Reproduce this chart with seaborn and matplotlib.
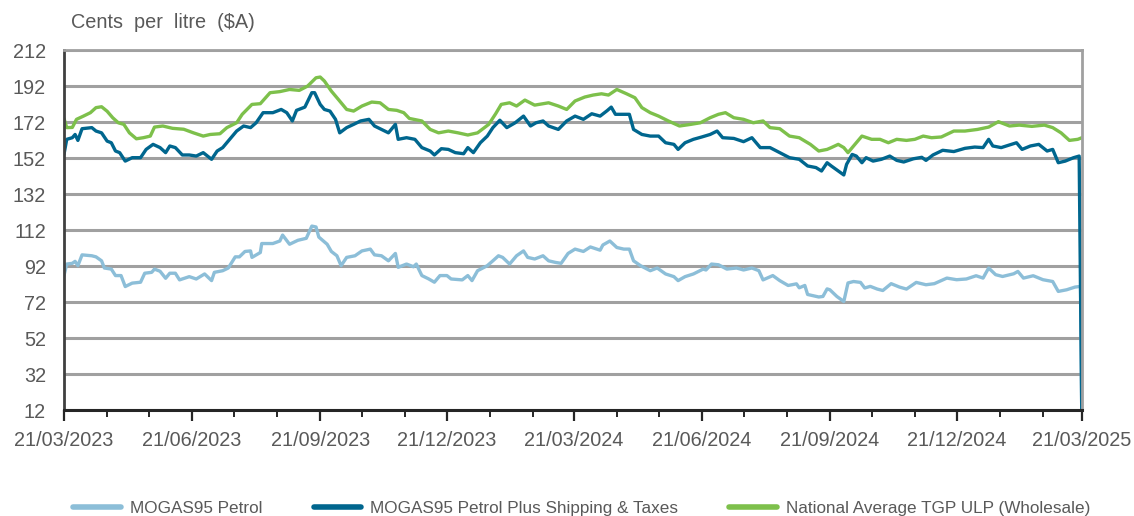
import numpy as np
import pandas as pd
import matplotlib
matplotlib.use("Agg")
import matplotlib.pyplot as plt
import matplotlib.dates as mdates
from matplotlib.lines import Line2D
import seaborn as sns

START = "2023-03-21"
END = "2025-03-21"

series_names = ["MOGAS95 Petrol",
                "MOGAS95 Petrol Plus Shipping & Taxes",
                "National Average TGP ULP (Wholesale)"]
series_colors = ["#8CBED8", "#00668E", "#7DC04B"]

# days since 21/03/2023 and values (cents per litre)
mogas_days = [0, 2, 6, 8, 10, 13, 20, 23, 27, 29, 34, 37, 41, 44, 49, 55, 58, 63, 65, 69,
              73, 76, 80, 83, 90, 95, 101, 106, 108, 114, 118, 123, 126, 130, 134, 135, 141, 142,
              150, 155, 157, 162, 168, 174, 178, 181, 183, 189, 192, 196, 199, 203, 209, 214,
              220, 223, 228, 233, 238, 240, 246, 251, 253, 257, 262, 266, 270, 275, 278, 286,
              290, 293, 297, 304, 308, 312, 315, 320, 325, 330, 333, 338, 344, 348, 353, 357,
              362, 367, 373, 378, 385, 387, 392, 397, 402, 406, 409, 414, 421, 426, 432, 438,
              441, 446, 452, 459, 461, 465, 470, 476, 483, 488, 494, 499, 502, 509, 514, 520,
              526, 528, 532, 534, 542, 545, 548, 550, 555, 560, 563, 567, 572, 575, 579, 584,
              588, 594, 600, 605, 612, 619, 625, 634, 641, 648, 655, 660, 664, 669, 674, 682,
              685, 689, 696, 703, 710, 714, 720, 726, 730, 731]
mogas_vals = [86.7, 93.1, 93.5, 94.6, 92.2, 98.2, 97.7, 97.1, 94.9, 90.9, 90.3, 86.7, 86.7, 80.6,
              82.5, 83.0, 88.0, 88.5, 90.3, 89.1, 85.2, 88.0, 88.0, 84.3, 86.1, 84.8, 87.6, 83.9,
              88.5, 89.4, 90.9, 97.1, 97.1, 100.1, 100.4, 96.8, 99.5, 104.5, 104.5, 105.9, 109.2,
              104.1, 106.3, 107.4, 114.2, 113.7, 108.1, 104.1, 100.1, 97.7, 92.2, 96.8, 97.7,
              100.4, 101.4, 98.2, 97.7, 94.9, 99.0, 91.3, 93.1, 91.6, 93.1, 86.7, 84.8, 83.0,
              86.7, 86.7, 84.8, 84.3, 86.7, 83.9, 89.4, 92.2, 94.9, 97.7, 96.8, 93.1, 97.7, 100.4,
              96.8, 95.9, 97.7, 94.9, 94.0, 93.5, 99.0, 101.4, 100.1, 102.6, 100.8, 103.7, 105.9,
              102.3, 101.4, 101.4, 94.9, 92.2, 89.4, 90.9, 87.6, 86.1, 83.9, 86.1, 87.6, 90.3,
              89.8, 93.1, 92.7, 90.3, 90.9, 89.8, 90.9, 89.4, 84.3, 86.7, 83.9, 81.2, 82.1, 79.9,
              81.2, 76.2, 74.8, 75.1, 79.3, 78.8, 75.1, 72.3, 82.6, 83.4, 82.9, 79.8, 80.7, 79.2,
              78.4, 82.2, 80.3, 79.2, 82.9, 81.6, 82.2, 85.3, 84.4, 84.8, 86.6, 85.3, 90.9, 87.2,
              86.2, 87.7, 89.0, 85.3, 86.6, 84.4, 83.4, 77.9, 78.8, 80.3, 80.7, 0.0]

plus_days = [0, 2, 6, 8, 10, 13, 20, 23, 27, 31, 34, 37, 40, 44, 49, 55, 59, 64, 69, 73, 76, 80,
             85, 90, 95, 100, 106, 110, 114, 119, 124, 129, 134, 138, 143, 150, 156, 160, 164,
             167, 173, 178, 180, 184, 187, 191, 195, 198, 203, 208, 213, 219, 223, 228, 233,
             238, 240, 246, 252, 257, 263, 266, 271, 276, 281, 287, 290, 294, 299, 304, 308,
             313, 318, 324, 330, 335, 339, 344, 348, 355, 361, 367, 373, 379, 385, 390, 393,
             396, 402, 406, 409, 415, 421, 427, 432, 438, 441, 446, 452, 458, 464, 469, 473,
             481, 488, 494, 500, 507, 514, 521, 528, 534, 540, 544, 548, 551, 556, 560, 562,
             566, 569, 573, 576, 581, 587, 593, 598, 603, 610, 616, 619, 624, 631, 639, 647,
             654, 660, 664, 667, 673, 679, 684, 688, 694, 700, 706, 710, 714, 719, 725, 729, 731]
plus_vals = [154.0, 162.4, 163.3, 165.1, 161.8, 168.3, 168.9, 167.0, 166.0, 161.4, 160.5, 155.9,
             155.0, 150.3, 152.2, 152.2, 156.8, 159.6, 157.8, 155.0, 158.7, 157.8, 153.7, 153.7,
             153.1, 155.0, 151.3, 155.9, 157.8, 162.4, 167.0, 169.8, 168.9, 171.6, 177.2, 177.2,
             179.0, 177.2, 172.6, 178.5, 180.3, 188.3, 188.3, 181.8, 179.0, 178.1, 173.5, 166.0,
             168.9, 170.7, 172.6, 173.5, 169.8, 167.9, 166.0, 170.7, 162.4, 163.3, 162.4, 157.8,
             155.9, 153.7, 157.2, 156.8, 155.0, 154.4, 157.8, 155.0, 160.5, 164.2, 168.9, 173.0,
             168.9, 171.6, 175.3, 169.8, 171.6, 172.6, 169.8, 167.9, 172.6, 175.3, 173.5, 176.6,
             175.3, 178.3, 180.3, 176.3, 176.3, 176.3, 167.9, 165.1, 164.2, 164.2, 160.5, 159.6,
             156.8, 160.5, 162.4, 163.7, 165.1, 167.0, 163.3, 162.9, 161.1, 163.3, 157.8, 157.8,
             155.0, 152.2, 151.3, 147.6, 146.7, 144.8, 149.4, 147.6, 144.8, 142.6, 148.5, 154.0,
             153.1, 149.4, 152.2, 150.3, 151.3, 153.1, 150.7, 149.8, 151.6, 152.4, 150.7, 153.7,
             156.3, 155.6, 157.4, 158.1, 157.8, 162.4, 158.7, 157.8, 159.3, 160.5, 156.8, 158.7,
             159.6, 155.9, 156.8, 149.4, 150.3, 152.2, 153.1, 0.0]

tgp_days = [0, 2, 6, 9, 14, 19, 23, 27, 31, 35, 39, 43, 47, 52, 57, 62, 65, 71, 78, 86, 93, 100,
            105, 112, 117, 124, 128, 135, 141, 148, 155, 162, 169, 175, 181, 184, 187, 192, 197,
            203, 208, 214, 221, 227, 233, 239, 244, 248, 257, 263, 269, 276, 283, 290, 297, 305,
            310, 314, 320, 325, 331, 338, 348, 355, 361, 367, 374, 380, 386, 391, 397, 404, 410,
            415, 421, 427, 434, 442, 450, 457, 464, 470, 475, 481, 488, 495, 502, 507, 514, 521,
            528, 536, 542, 548, 551, 556, 560, 563, 567, 573, 580, 586, 592, 598, 605, 611, 617,
            623, 630, 639, 647, 656, 664, 671, 679, 686, 695, 704, 710, 716, 722, 728, 731]
tgp_vals = [174.0, 168.9, 169.0, 173.5, 175.3, 177.2, 180.0, 180.5, 178.0, 174.4, 171.6, 170.7,
            166.0, 162.7, 163.3, 164.2, 169.2, 169.8, 168.5, 168.0, 166.0, 164.2, 165.1, 165.5,
            168.9, 171.6, 176.3, 181.8, 182.2, 188.3, 188.9, 190.1, 189.6, 192.0, 196.6, 197.0,
            194.8, 189.2, 184.6, 179.0, 178.1, 180.9, 183.1, 182.7, 179.0, 178.5, 177.2, 174.0,
            172.6, 167.9, 166.0, 167.0, 166.0, 164.8, 166.0, 170.7, 176.6, 181.8, 182.7, 180.9,
            184.2, 181.4, 182.7, 180.9, 179.0, 183.7, 185.9, 187.0, 187.7, 187.0, 190.1, 187.7,
            185.5, 180.0, 177.2, 175.3, 172.6, 169.8, 170.7, 171.6, 174.4, 176.3, 177.2, 174.4,
            173.5, 171.6, 172.6, 168.9, 168.3, 164.2, 163.3, 159.6, 155.9, 156.8, 157.8, 159.6,
            157.8, 155.0, 158.7, 164.2, 162.4, 162.4, 160.5, 162.4, 161.8, 162.4, 164.2, 163.3,
            163.7, 167.0, 167.0, 167.9, 169.2, 172.2, 169.8, 170.3, 169.6, 170.3, 168.9, 166.0,
            161.8, 162.4, 163.3]

y_ticks = [12, 32, 52, 72, 92, 112, 132, 152, 172, 192, 212]
y_label = "Cents  per  litre  ($A)"

# ---- build long table ----
start = pd.Timestamp(START)
frames = []
for name, days, vals in [(series_names[0], mogas_days, mogas_vals),
                         (series_names[1], plus_days, plus_vals),
                         (series_names[2], tgp_days, tgp_vals)]:
    frames.append(pd.DataFrame({
        "date": start + pd.to_timedelta(days, unit="D"),
        "value": vals,
        "series": name,
    }))
df = pd.concat(frames, ignore_index=True)

sns.set_theme(style="white")
plt.rcParams["font.family"] = ["Liberation Sans", "DejaVu Sans"]
text_color = "#595959"

fig = plt.figure(figsize=(11.34, 5.16), dpi=100)
ax = fig.add_axes([0.0564, 0.2054, 0.8977, 0.6976])

sns.lineplot(data=df, x="date", y="value", hue="series", hue_order=series_names,
             palette=dict(zip(series_names, series_colors)), linewidth=2.4,
             legend=False, ax=ax, estimator=None, sort=False)

ax.set_ylim(12, 212)
ax.set_yticks(y_ticks)
ax.set_xlim(pd.Timestamp(START), pd.Timestamp(END))
ax.yaxis.grid(True, color="#A0A0A0", linewidth=2.2)
ax.set_axisbelow(True)
ax.set_xlabel("")
ax.set_ylabel("")

ax.xaxis.set_major_locator(mdates.MonthLocator(bymonth=[3, 6, 9, 12], bymonthday=21))
ax.xaxis.set_minor_locator(mdates.MonthLocator(bymonthday=21))
ax.xaxis.set_major_formatter(mdates.DateFormatter("%d/%m/%Y"))

for s in ["top", "right"]:
    ax.spines[s].set_color("#A0A0A0")
    ax.spines[s].set_linewidth(2.0)
ax.spines["left"].set_color("#404040")
ax.spines["left"].set_linewidth(2.0)
ax.spines["bottom"].set_color("#262626")
ax.spines["bottom"].set_linewidth(2.2)

ax.tick_params(axis="x", which="major", direction="out", length=8, width=1.6,
               color="#262626", labelsize=14.3, labelcolor=text_color, pad=7, bottom=True)
ax.tick_params(axis="x", which="minor", direction="out", length=5, width=1.4,
               color="#262626", bottom=True)
ax.tick_params(axis="y", length=0, labelsize=14.3, labelcolor=text_color, pad=13)

fig.text(0.063, 0.956, y_label, fontsize=14.3, color=text_color, ha="left", va="center")

handles = [Line2D([0], [0], color=c, linewidth=4) for c in series_colors]
fig.legend(handles, series_names, loc="center", bbox_to_anchor=(0.513, 0.015), ncol=3,
           frameon=False, fontsize=12.3, labelcolor=text_color, handlelength=2.8,
           handletextpad=0.5, columnspacing=3.0)

fig.savefig("out.png", dpi=100)
